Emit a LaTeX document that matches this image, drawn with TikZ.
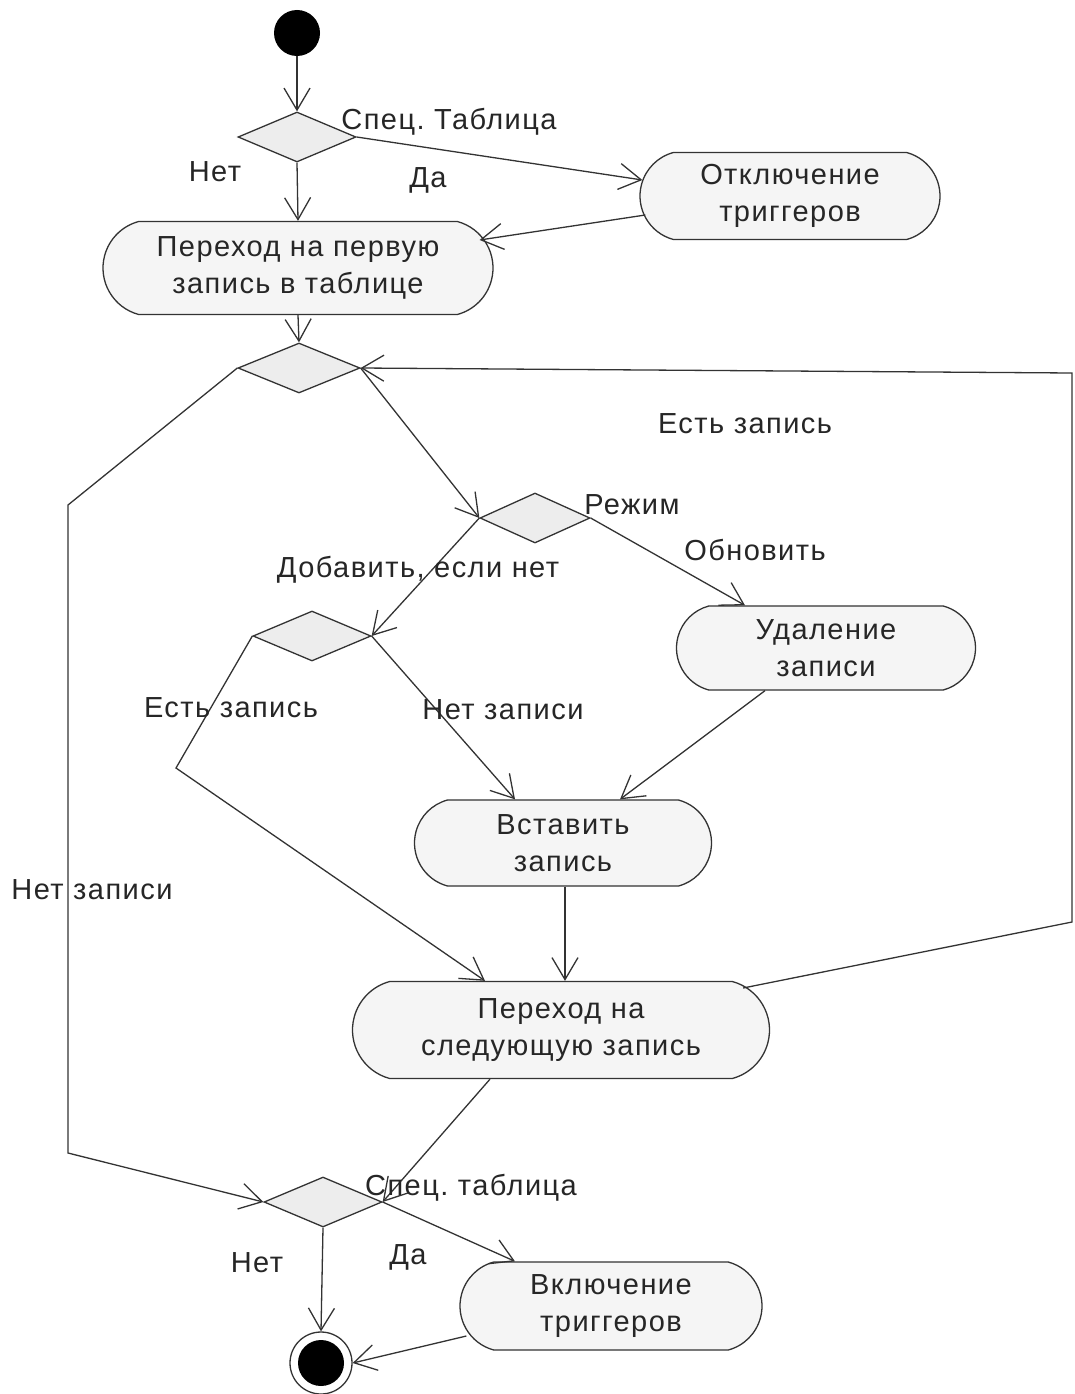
\documentclass[tikz,border=0pt]{standalone}
\usepackage{fontspec}
\setmainfont[LetterSpace=5]{Liberation Sans}
\usetikzlibrary{shapes.misc,shapes.geometric,arrows.meta,calc}
\begin{document}
\frenchspacing
\begin{tikzpicture}[x=1pt,y=-1pt,
  every node/.style={font=\fontsize{29}{37}\selectfont, text=black!85},
  act/.style={rounded rectangle, rounded rectangle arc length=150, draw=black!80, line width=1.3pt, fill=black!4, align=center, inner sep=0pt},
  dec/.style={diamond, draw=black!80, line width=1.3pt, fill=black!7, minimum width=118pt, minimum height=50pt, inner sep=0pt},
  flow/.style={draw=black!80, line width=1.3pt, -{Straight Barb[length=22pt,width=26pt]}},
  plain/.style={draw=black!80, line width=1.3pt},
  lbl/.style={inner sep=0pt}
]
\useasboundingbox (0,0) rectangle (1074,1394);
\fill[white] (0,0) rectangle (1074,1394);

% nodes
\node[circle, fill=black, minimum size=46pt, inner sep=0pt] (start) at (297,33) {};
\node[dec] (d1) at (297,137) {};
\node[act, minimum width=300pt, minimum height=87pt] (otk) at (790,196) {Отключение\\триггеров};
\node[act, minimum width=390pt, minimum height=93pt] (per1) at (298,268) {Переход на первую\\запись в таблице};
\node[dec, minimum width=122pt] (d2) at (299,368) {};
\node[dec, minimum width=110pt] (d3) at (535,518) {};
\node[dec] (d4) at (312,636) {};
\node[act, minimum width=299pt, minimum height=84pt] (udal) at (826,648) {Удаление\\записи};
\node[act, minimum width=297pt, minimum height=86pt] (vst) at (563,843) {Вставить\\запись};
\node[act, minimum width=417pt, minimum height=97pt] (per2) at (561,1030) {Переход на\\следующую запись};
\node[dec] (d5) at (323,1202) {};
\node[act, minimum width=302pt, minimum height=88pt] (vkl) at (611,1306) {Включение\\триггеров};
\node[circle, draw=black!80, line width=1.3pt, fill=white, minimum size=62pt, inner sep=0pt] (endc) at (321,1363) {};
\fill[black] (endc.center) circle[radius=23pt];

% helper coordinates
\coordinate (c1) at (68,505);
\coordinate (c2) at (68,1153);
\coordinate (c3) at (1072,922);
\coordinate (c4) at (1072,373);
\coordinate (c5) at (176,768);

% connectors
\draw[flow] (start) -- (d1.north);
\draw[flow] (d1.east) -- ($(otk.west)+(3,-16)$);
\draw[flow] (d1.south) -- (per1.north);
\draw[flow] ($(otk.west)+(6,19)$) -- ($(per1.east)+(-14,-28)$);
\draw[flow] (per1.south) -- (d2.north);
\draw[flow] (d2.west) -- (c1) -- (c2) -- (d5.west);
\draw[flow] ($(per2.east)+(-27,-42)$) -- (c3) -- (c4) -- (d2.east);
\draw[flow] (d2.east) -- (d3.west);
\draw[flow] (d3.east) -- ($(udal.north)+(-81,0)$);
\draw[flow] (d3.west) -- (d4.east);
\draw[flow] (d4.east) -- ($(vst.north)+(-48,0)$);
\draw[flow] (d4.west) -- (c5) -- ($(per2.north)+(-76,0)$);
\draw[flow] ($(udal.south)+(-61,0)$) -- ($(vst.north)+(57,0)$);
\draw[flow] ($(vst.south)+(2,0)$) -- ($(per2.north)+(4,0)$);
\draw[flow] ($(per2.south)+(-71,0)$) -- (d5.east);
\draw[flow] (d5.east) -- ($(vkl.north)+(-96,0)$);
\draw[flow] (d5.south) -- (endc.north);
\draw[flow] ($(vkl.west)+(7,30)$) -- (endc.east);

% labels
\node[lbl] (l1) at (449,122) {Спец. Таблица};
\node[lbl] (l2) at (215,172) {Нет};
\node[lbl] (l3) at (428,180) {Да};
\node[lbl] (l4) at (745,424) {Есть запись};
\node[lbl] (l5) at (92,890) {Нет записи};
\node[lbl] (l6) at (632,505) {Режим};
\node[lbl] (l7) at (755,550) {Обновить};
\node[lbl] (l8) at (418,570) {Добавить, если нет};
\node[lbl] (l9) at (231,708) {Есть запись};
\node[lbl] (l10) at (503,710) {Нет записи};
\node[lbl] (l11) at (471,1188) {Спец. таблица};
\node[lbl] (l12) at (257,1263) {Нет};
\node[lbl] (l13) at (408,1257) {Да};
\end{tikzpicture}
\end{document}
